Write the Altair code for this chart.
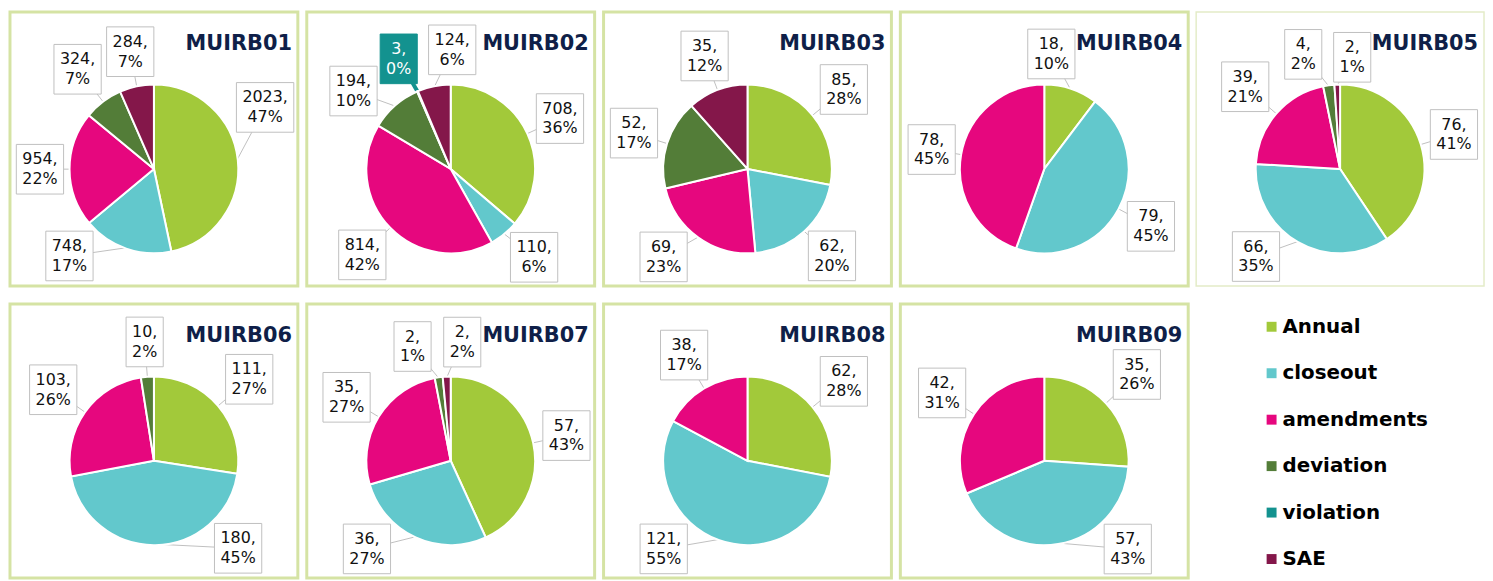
import math
import altair as alt
import pandas as pd

# ---------------- data ----------------
categories = ["Annual", "closeout", "amendments", "deviation", "violation", "SAE"]
colors = ["#A2C93A", "#62C8CC", "#E6077E", "#537D38", "#13928F", "#84174A"]
panels = ["MUIRB01", "MUIRB02", "MUIRB03", "MUIRB04", "MUIRB05",
          "MUIRB06", "MUIRB07", "MUIRB08", "MUIRB09"]

annual_n = [2023, 708, 85, 18, 76, 111, 57, 62, 35]
closeout_n = [748, 110, 62, 79, 66, 180, 36, 121, 57]
amendments_n = [954, 814, 69, 78, 39, 103, 35, 38, 42]
deviation_n = [324, 194, 52, 0, 4, 10, 2, 0, 0]
violation_n = [0, 3, 0, 0, 0, 0, 0, 0, 0]
sae_n = [284, 124, 35, 0, 2, 0, 2, 0, 0]

annual_pct = [47, 36, 28, 10, 41, 27, 43, 28, 26]
closeout_pct = [17, 6, 20, 45, 35, 45, 27, 55, 43]
amendments_pct = [22, 42, 23, 45, 21, 26, 27, 17, 31]
deviation_pct = [7, 10, 17, 0, 2, 2, 1, 0, 0]
violation_pct = [0, 0, 0, 0, 0, 0, 0, 0, 0]
sae_pct = [7, 6, 12, 0, 1, 0, 2, 0, 0]

# ---------------- layout constants ----------------
W, H = 290, 276
CX, CY, R = 145, 158, 85
FS = 16
FONT = "DejaVu Sans"
HH = 25
TITLE_BOX = (W - 6 - 108, 18, W - 6, 46)

CW = {c: 0.636 for c in "0123456789"}
CW[","] = 0.318
CW["%"] = 0.950


def tw(s):
    return sum(CW.get(c, 0.6) for c in s) * FS


def spread(angles, minsep):
    a = list(angles)
    n = len(a)
    for _ in range(400):
        moved = False
        for i in range(n):
            j = (i + 1) % n
            gap = (a[j] - a[i]) % 360
            if gap < minsep:
                d = (minsep - gap) / 2 + 0.01
                a[i] -= d
                a[j] += d
                moved = True
        if not moved:
            break
    return [x % 360 for x in a]


def box_at(a_deg, g, hw, hh):
    a = math.radians(a_deg)
    s, c = math.sin(a), -math.cos(a)
    e1 = hw / abs(s) if abs(s) > 1e-6 else 1e9
    e2 = hh / abs(c) if abs(c) > 1e-6 else 1e9
    d = R + g + min(e1, e2)
    x, y = CX + d * s, CY + d * c
    return (x - hw, y - hh, x + hw, y + hh), x, y


def overlaps(b1, b2, m=2):
    return not (b1[2] + m <= b2[0] or b2[2] + m <= b1[0] or
                b1[3] + m <= b2[1] or b2[3] + m <= b1[1])


def hits_circle(b):
    nx = min(max(CX, b[0]), b[2])
    ny = min(max(CY, b[1]), b[3])
    return math.hypot(nx - CX, ny - CY) < R + 2


def ok(b, placed):
    if b[0] < 4 or b[1] < 3 or b[2] > W - 4 or b[3] > H - 4:
        return False
    if overlaps(b, TITLE_BOX, 0):
        return False
    if hits_circle(b):
        return False
    return all(not overlaps(b, p) for p in placed)


deltas = [0]
for k in range(1, 60):
    deltas += [-k, k]

rows = []
for p, name in enumerate(panels):
    vals = [annual_n[p], closeout_n[p], amendments_n[p], deviation_n[p], violation_n[p], sae_n[p]]
    pcts = [annual_pct[p], closeout_pct[p], amendments_pct[p], deviation_pct[p], violation_pct[p], sae_pct[p]]
    items = [(i, categories[i], vals[i], pcts[i]) for i in range(6) if vals[i] > 0]
    total = float(sum(it[2] for it in items))
    cum = 0.0
    mids = []
    for it in items:
        mids.append((cum + it[2] / 2.0) / total * 360.0)
        cum += it[2]
    angles = spread(mids, 26)
    placed = []
    for (i, cat, v, pc), mid, a in zip(items, mids, angles):
        l1, l2 = f"{v},", f"{pc}%"
        hw = (max(tw(l1), tw(l2)) + 12) / 2.0
        chosen = None
        for dlt in deltas:
            for g in (10, 6, 3):
                b, x, y = box_at(a + dlt, g, hw, HH)
                if ok(b, placed):
                    chosen = (b, x, y)
                    break
            if chosen:
                break
        if chosen is None:
            chosen = box_at(a, 10, hw, HH)
        b, x, y = chosen
        placed.append(b)
        mr = math.radians(mid)
        rows.append(dict(panel=name, cat=cat, idx=i, value=v, label=l1 + "\n" + l2,
                         lx=x, ly=y, bx1=b[0], by1=b[1], bx2=b[2], by2=b[3],
                         ex=CX + (R - 1) * math.sin(mr), ey=CY - (R - 1) * math.cos(mr)))

df = pd.DataFrame(rows)
title_df = pd.DataFrame({"panel": panels})
legend_df = pd.DataFrame({"cat": categories})

color_scale = alt.Scale(domain=categories, range=colors)
is_viol = alt.datum.cat == "violation"


def panel_chart(name, light=False):
    base = alt.Chart(df).transform_filter(alt.datum.panel == name)
    leaders = base.mark_rule().encode(
        x=alt.X("ex:Q", scale=None, axis=None),
        y=alt.Y("ey:Q", scale=None, axis=None),
        x2="lx:Q", y2="ly:Q",
        color=alt.condition(is_viol, alt.value("#13928F"), alt.value("#BFBFBF")),
        strokeWidth=alt.condition(is_viol, alt.value(4), alt.value(1)),
    )
    pie = base.mark_arc(outerRadius=R, stroke="white", strokeWidth=2).encode(
        theta=alt.Theta("value:Q", stack=True),
        color=alt.Color("cat:N", scale=color_scale, legend=None),
        order=alt.Order("idx:Q", sort="ascending"),
        x=alt.value(CX), y=alt.value(CY),
    )
    boxes = base.mark_rect(strokeWidth=1).encode(
        x=alt.X("bx1:Q", scale=None, axis=None), x2="bx2:Q",
        y=alt.Y("by1:Q", scale=None, axis=None), y2="by2:Q",
        fill=alt.condition(is_viol, alt.value("#13928F"), alt.value("white")),
        stroke=alt.condition(is_viol, alt.value("#13928F"), alt.value("#BFBFBF")),
    )
    texts = base.mark_text(font=FONT, fontSize=FS, lineBreak="\n", lineHeight=20,
                           align="center", baseline="middle", dy=-10).encode(
        x=alt.X("lx:Q", scale=None, axis=None),
        y=alt.Y("ly:Q", scale=None, axis=None),
        text="label:N",
        color=alt.condition(is_viol, alt.value("white"), alt.value("#111111")),
    )
    title = alt.Chart(title_df).transform_filter(alt.datum.panel == name).mark_text(
        font=FONT, fontSize=21, fontWeight="bold", color="#0F1F48",
        align="right", baseline="alphabetic").encode(
        text="panel:N", x=alt.value(W - 6), y=alt.value(38))
    ch = alt.layer(leaders, pie, boxes, texts, title).properties(width=W, height=H)
    if light:
        ch = ch.properties(view=alt.ViewBackground(stroke="#E4ECC8", strokeWidth=1.5))
    return ch


leg_y = alt.Y("cat:N", sort=categories, axis=None,
              scale=alt.Scale(type="point", domain=categories, range=[23, 257], padding=0))
leg_sq = alt.Chart(legend_df).mark_square(size=100, opacity=1).encode(
    y=leg_y, x=alt.value(77),
    color=alt.Color("cat:N", scale=color_scale, legend=None))
leg_tx = alt.Chart(legend_df).mark_text(font=FONT, fontSize=20, fontWeight="bold",
                                        align="left", baseline="middle", color="black").encode(
    y=leg_y, x=alt.value(88), text="cat:N")
legend_panel = alt.layer(leg_sq, leg_tx).properties(
    width=W, height=H, view=alt.ViewBackground(stroke="transparent", strokeWidth=0))

row1 = alt.hconcat(*[panel_chart(n, light=(k == 4)) for k, n in enumerate(panels[:5])], spacing=5)
row2 = alt.hconcat(*[panel_chart(n) for n in panels[5:]], legend_panel, spacing=5)

chart = alt.vconcat(row1, row2, spacing=14).properties(
    padding=0, background="white"
).configure_view(stroke="#D5E3A4", strokeWidth=3)

chart.save("out.html", embed_options={"renderer": "svg", "actions": False})
